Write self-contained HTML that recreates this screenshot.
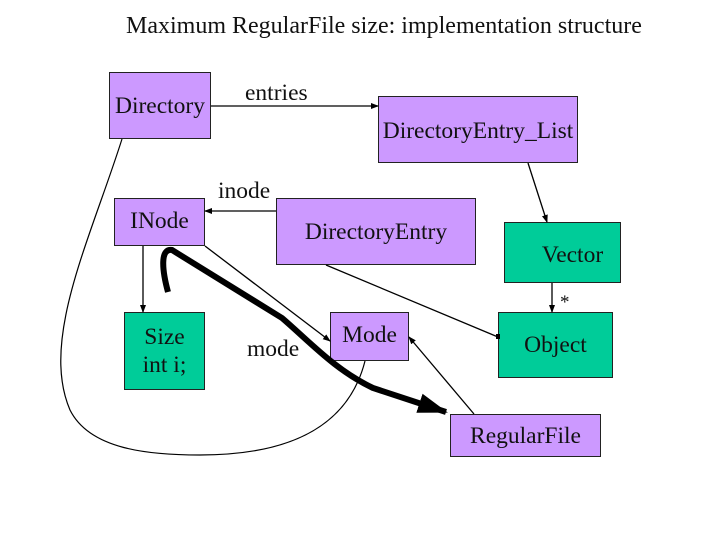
<!DOCTYPE html>
<html><head><style>
body{margin:0;width:720px;height:540px;background:#fff;position:relative;overflow:hidden;font-family:"Liberation Serif",serif;}
.b{position:absolute;border:1px solid #222;box-sizing:border-box;display:flex;align-items:center;justify-content:center;font-size:23.5px;color:#111;text-align:center;line-height:28px;white-space:nowrap}
.p{background:#cc99ff}.g{background:#00cc99}
.t{position:absolute;font-size:23.5px;color:#111;white-space:nowrap}
svg{position:absolute;left:0;top:0}
</style></head><body>
<div class="t" style="left:126px;top:13px;font-size:24px">Maximum RegularFile size: implementation structure</div>
<div class="b p" style="left:109px;top:72px;width:102px;height:67px">Directory</div>
<div class="b p" style="left:378px;top:96px;width:200px;height:67px;padding-top:2px">DirectoryEntry_List</div>
<div class="b p" style="left:114px;top:198px;width:91px;height:48px;align-items:flex-start;padding-top:8px">INode</div>
<div class="b p" style="left:276px;top:198px;width:200px;height:67px">DirectoryEntry</div>
<div class="b g" style="left:504px;top:222px;width:117px;height:61px;padding-left:20px;padding-top:4px">Vector</div>
<div class="b g" style="left:124px;top:312px;width:81px;height:78px">Size<br>int i;</div>
<div class="b p" style="left:330px;top:312px;width:79px;height:49px;align-items:flex-start;padding-top:8px">Mode</div>
<div class="b g" style="left:498px;top:312px;width:115px;height:66px">Object</div>
<div class="b p" style="left:450px;top:414px;width:151px;height:43px">RegularFile</div>
<div class="t" style="left:245px;top:80px">entries</div>
<div class="t" style="left:218px;top:178px">inode</div>
<div class="t" style="left:247px;top:336px">mode</div>
<div class="t" style="left:560px;top:292px;font-size:19px">*</div>
<svg width="720" height="540" viewBox="0 0 720 540">
<defs>
<marker id="a" markerWidth="8" markerHeight="8" refX="7" refY="4" orient="auto" markerUnits="userSpaceOnUse"><path d="M0,1 L8,4 L0,7 z" fill="#000"/></marker>
<marker id="h" markerWidth="30" markerHeight="24" refX="28" refY="12" orient="auto" markerUnits="userSpaceOnUse"><path d="M0,2 L30,12 L0,22 z" fill="#000"/></marker>
</defs>
<g stroke="#000" fill="none" stroke-width="1.3">
<line x1="211" y1="106" x2="378" y2="106" marker-end="url(#a)"/>
<line x1="528" y1="163" x2="547" y2="222" marker-end="url(#a)"/>
<line x1="276" y1="211" x2="205" y2="211" marker-end="url(#a)"/>
<line x1="143" y1="246" x2="143" y2="312" marker-end="url(#a)"/>
<line x1="205" y1="246" x2="330" y2="341" marker-end="url(#a)"/>
<line x1="326" y1="265" x2="498" y2="337"/>
<line x1="552" y1="283" x2="552" y2="312" marker-end="url(#a)"/>
<line x1="474" y1="414" x2="409" y2="337" marker-end="url(#a)"/>
<path d="M122,139 C90,240 40,340 70,410 C90,450 150,455 200,455 C300,455 350,420 365,361" stroke-width="1.2"/>
<path d="M168,292 C162,270 160,248 172,250 L282,318 C310,342 335,370 373,388 L446,412" stroke-width="6" marker-end="url(#h)"/>
</g>
<rect x="496" y="334" width="4" height="5" fill="#000"/>
</svg>
</body></html>
